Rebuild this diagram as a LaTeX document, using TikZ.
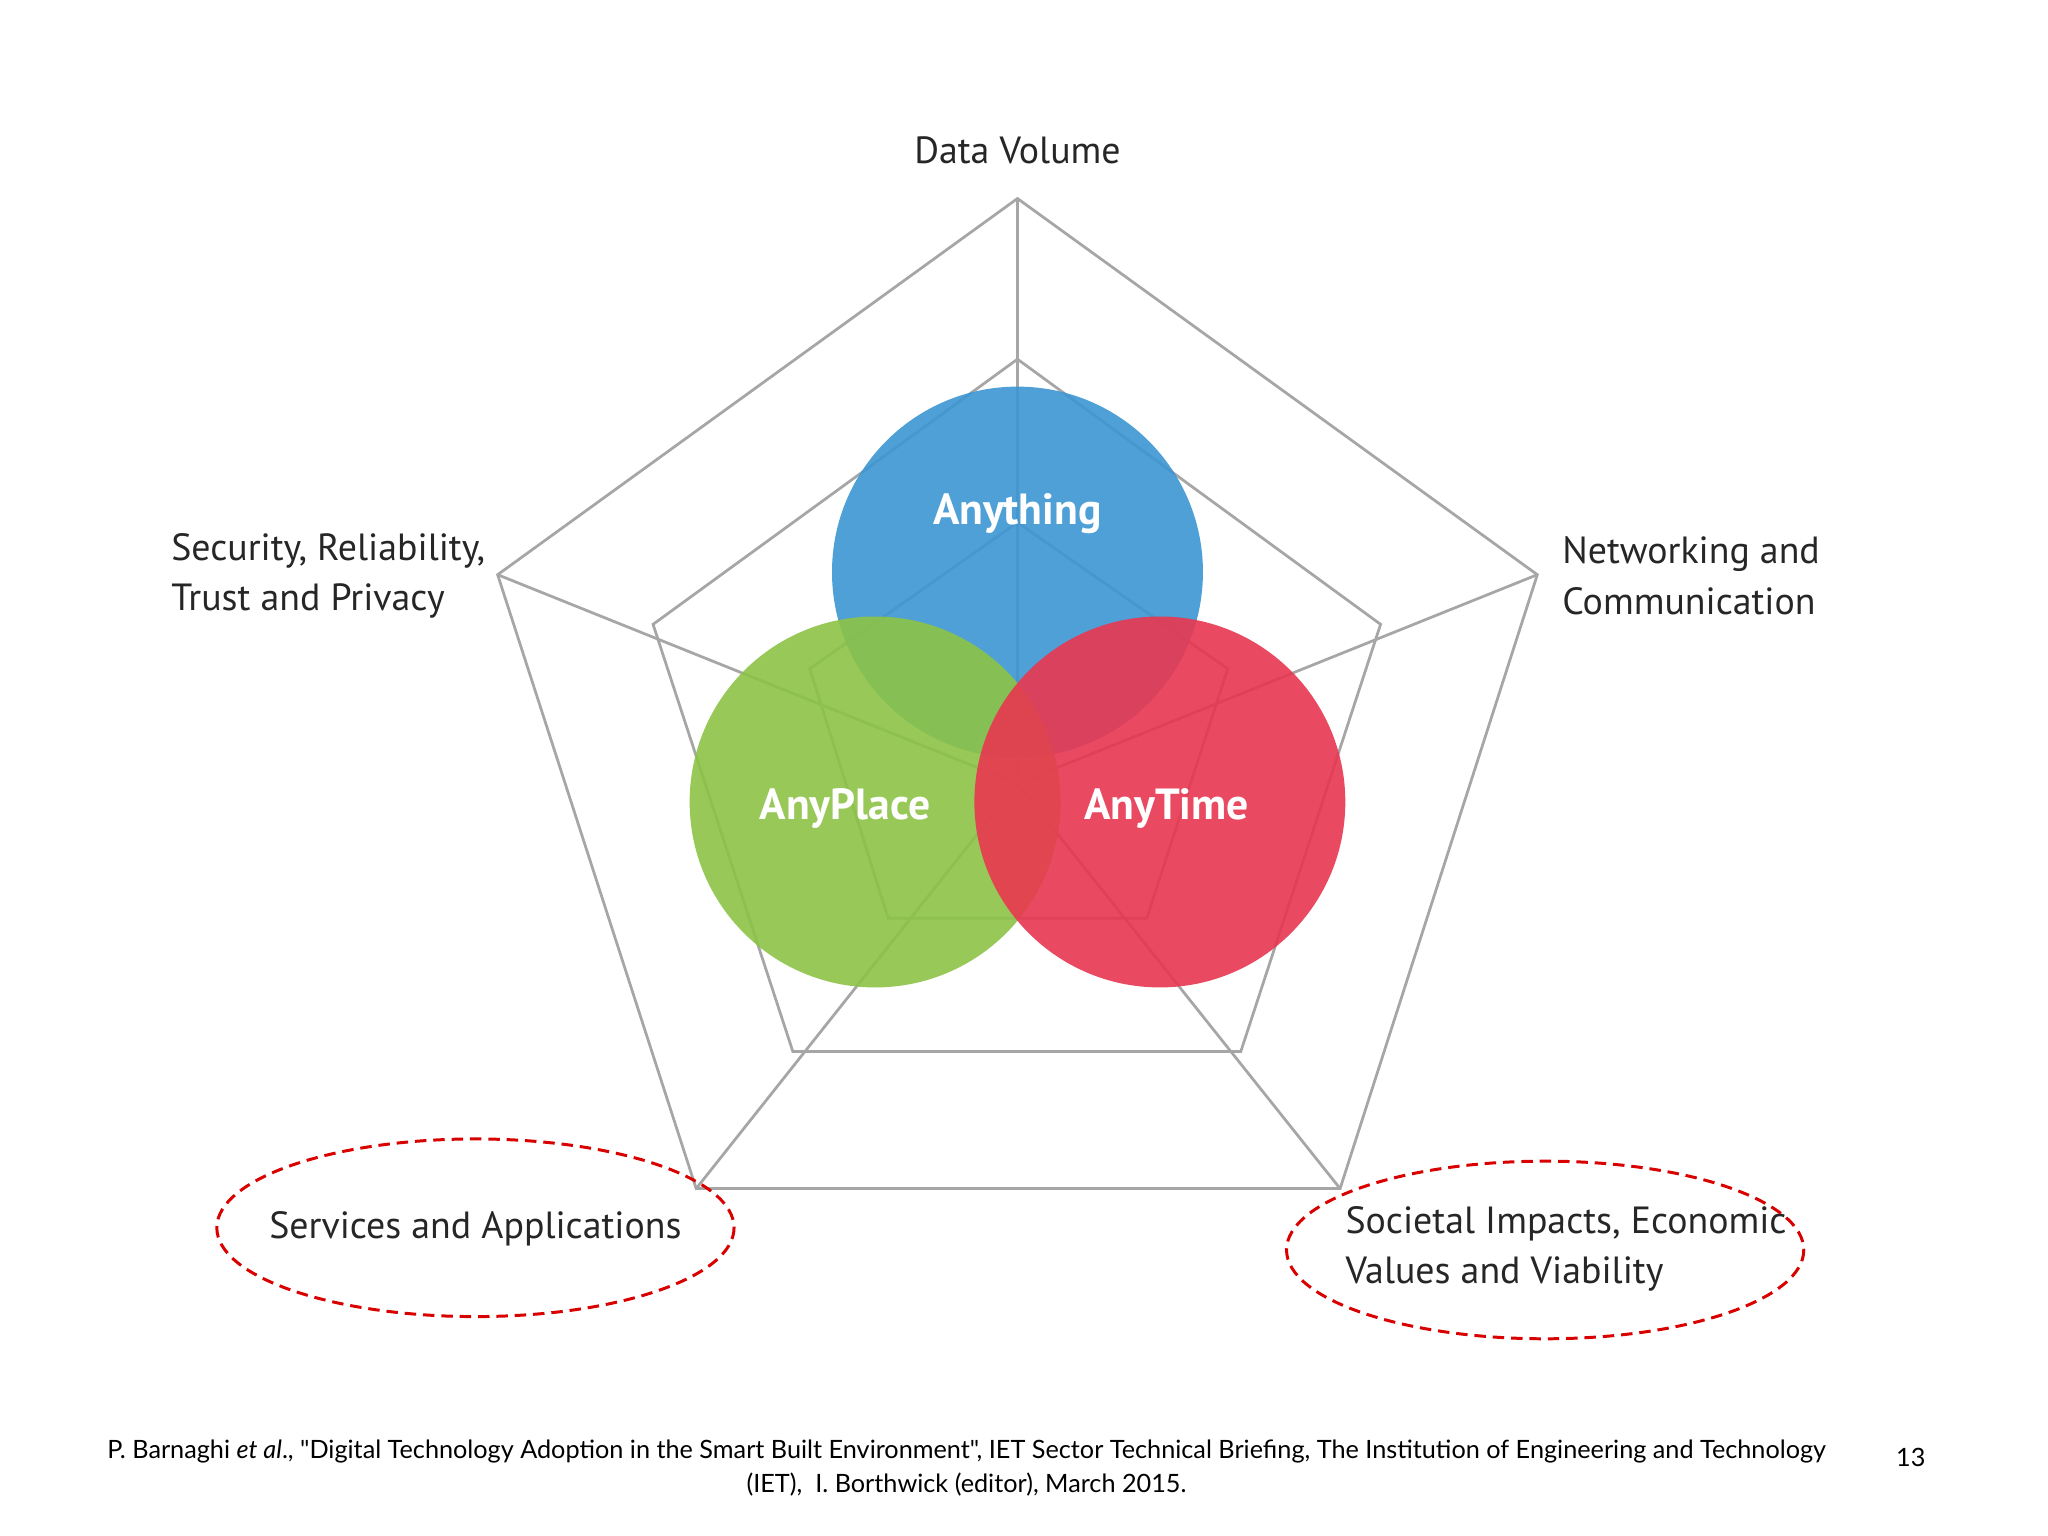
\documentclass[tikz,border=0pt]{standalone}
\usepackage{fontspec}
\setmainfont{PT Sans}
\newfontfamily\footfont{Lato}
\definecolor{cblue}{RGB}{60,150,210}
\definecolor{cgreen}{RGB}{140,195,70}
\definecolor{cred}{RGB}{232,55,80}
\begin{document}
\begin{tikzpicture}[x=0.02cm,y=-0.02cm,
  grid/.style={draw=gray!70,line width=1.2pt},
  blob/.style={circle,minimum size=284*0.02cm,inner sep=0pt,opacity=0.9},
  lab/.style={font=\fontsize{16.5}{22}\selectfont,text=black!85,align=left},
  ctext/.style={font=\bfseries\fontsize{19}{22}\selectfont,text=white},
  ell/.style={draw=red!85!black,dash pattern=on 5pt off 3pt,line width=1.3pt}]
\useasboundingbox[fill=white] (0,0) rectangle (1568,1176);
\coordinate (c) at (779,600);
\coordinate (o1) at (779,152); \coordinate (o2) at (1177,440); \coordinate (o3) at (1026,910);
\coordinate (o4) at (533,910); \coordinate (o5) at (381,440);
\coordinate (m1) at (779,275); \coordinate (m2) at (1057,478); \coordinate (m3) at (950,805);
\coordinate (m4) at (607,805); \coordinate (m5) at (500,478);
\coordinate (i1) at (779,400); \coordinate (i2) at (940,512); \coordinate (i3) at (878,703);
\coordinate (i4) at (680,703); \coordinate (i5) at (620,512);
\draw[grid] (o1)--(o2)--(o3)--(o4)--(o5)--cycle;
\draw[grid] (m1)--(m2)--(m3)--(m4)--(m5)--cycle;
\draw[grid] (i1)--(i2)--(i3)--(i4)--(i5)--cycle;
\foreach \p in {o1,o2,o3,o4,o5} \draw[grid] (c)--(\p);
\node[blob,fill=cblue] (any) at (779,438) {};
\node[blob,fill=cgreen] (apl) at (670,614) {};
\node[blob,fill=cred] (atm) at (888,614) {};
\node[ctext] at (779,393) {Anything};
\node[ctext] at (647,619) {AnyPlace};
\node[ctext] at (893,619) {AnyTime};
\node[lab] (dv) at (779,115) {Data Volume};
\node[lab,anchor=west] (nw) at (1190,441) {Networking and\\Communication};
\node[lab,anchor=west] (sr) at (125,441) {Security, Reliability,\\Trust and Privacy};
\node[lab] (sa) at (364,941) {Services and Applications};
\node[lab,anchor=west] (si) at (1024,956) {Societal Impacts, Economic\\Values and Viability};
\draw[ell] (364,940) ellipse (198 and 68);
\draw[ell] (1183,957) ellipse (198 and 68);
\node[font=\footfont\fontsize{11}{14.5}\selectfont,align=center] (ft) at (740,1124)
 {P. Barnaghi \emph{et al}., "Digital Technology Adoption in the Smart Built Environment", IET Sector Technical Briefing, The Institution of Engineering and Technology\\(IET),\ \ I. Borthwick (editor), March 2015.};
\node[font=\footfont\fontsize{11}{14}\selectfont] (pg) at (1463,1116) {13};
\end{tikzpicture}
\end{document}
